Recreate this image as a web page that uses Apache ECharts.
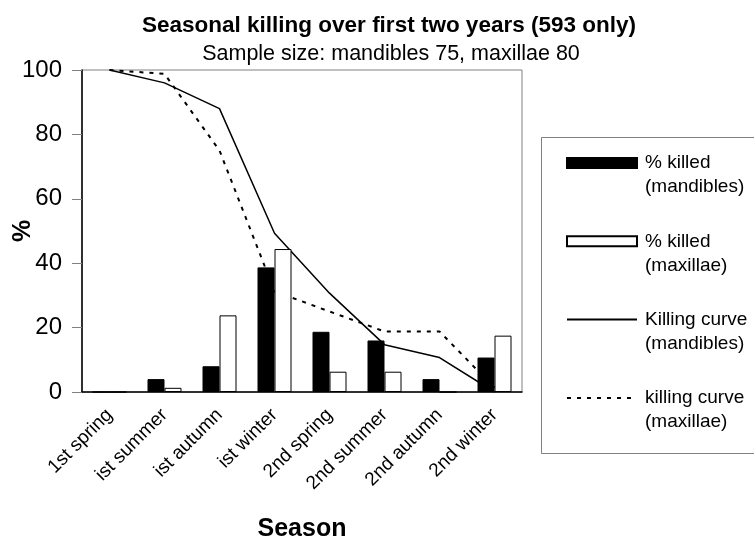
<!DOCTYPE html>
<html>
<head>
<meta charset="utf-8">
<title>Seasonal killing</title>
<script src="https://cdn.jsdelivr.net/npm/echarts@6/dist/echarts.min.js"></script>
<style>
  html, body { margin: 0; padding: 0; background: #fff; }
  #chart { width: 754px; height: 540px; }
</style>
</head>
<body>
<div id="chart"></div>
<script>
const seasons = ['1st spring', 'ist summer', 'ist autumn', 'ist winter', '2nd spring', '2nd summer', '2nd autumn', '2nd winter'];
const killedMandibles = [0, 4, 8, 38.7, 18.7, 16, 4, 10.7];
const killedMaxillae = [0, 1.3, 23.8, 44.4, 6.3, 6.3, 0, 17.5];
const curveMandibles = [100, 96, 88, 49.3, 30.7, 14.7, 10.7, 0];
const curveMaxillae = [100, 98.8, 75, 31.3, 25, 18.8, 18.8, 1.3];
const yTicks = [0, 20, 40, 60, 80, 100];

const font = "'Liberation Sans', Arial, sans-serif";

const chart = echarts.init(document.getElementById('chart'));

const option = {
  animation: false,
  backgroundColor: '#fff',
  textStyle: { fontFamily: font, color: '#000' },
  title: [
    {
      text: 'Seasonal killing over first two years (593 only)',
      left: 384,
      top: 9,
      textAlign: 'center',
      textStyle: { fontFamily: font, fontSize: 22.5, fontWeight: 'bold', color: '#000' }
    },
    {
      text: 'Sample size: mandibles 75, maxillae 80',
      left: 386,
      top: 38,
      textAlign: 'center',
      textStyle: { fontFamily: font, fontSize: 21.5, fontWeight: 'normal', color: '#000' }
    }
  ],
  // legend frame (box round the legend)
  graphic: [{
    type: 'rect',
    shape: { x: 541.5, y: 137.5, width: 240, height: 316 },
    style: { fill: null, stroke: '#808080', lineWidth: 1 },
    silent: true
  }],
  legend: {
    orient: 'vertical',
    left: 566,
    top: 127,
    padding: 0,
    itemWidth: 70,
    itemHeight: 10,
    itemGap: 6.3,
    data: [
      { name: '% killed (mandibles)', icon: 'rect' },
      { name: '% killed (maxillae)', icon: 'rect' },
      { name: 'Killing curve (mandibles)', itemStyle: { opacity: 0 } },
      { name: 'killing curve (maxillae)', itemStyle: { opacity: 0 } }
    ],
    // empty first line so the icon sits beside the first text line
    formatter: name => '\n' + name.replace(' (', '\n('),
    textStyle: {
      fontFamily: font,
      fontSize: 19,
      lineHeight: 24,
      color: '#000',
      padding: [0, 0, 0, 3]
    }
  },
  grid: {
    left: 82,
    right: 232,
    top: 70,
    bottom: 148,
    show: true,
    borderColor: '#808080',
    borderWidth: 1,
    containLabel: false,
    outerBoundsMode: 'none'
  },
  xAxis: {
    type: 'category',
    data: seasons,
    name: 'Season',
    nameLocation: 'middle',
    nameGap: 125,
    nameMoveOverlap: false,
    nameTextStyle: { fontFamily: font, fontSize: 25, fontWeight: 'bold', color: '#000' },
    axisLine: { lineStyle: { color: '#000', width: 1.5 } },
    axisTick: { length: 5, lineStyle: { color: '#000' } },
    axisLabel: { rotate: 45, interval: 0, fontSize: 19, margin: 20, color: '#000' },
    splitLine: { show: false }
  },
  yAxis: {
    type: 'value',
    min: yTicks[0],
    max: yTicks[yTicks.length - 1],
    interval: 20,
    name: '%',
    nameLocation: 'middle',
    nameGap: 46,
    nameRotate: 90,
    nameMoveOverlap: false,
    nameTextStyle: { fontFamily: font, fontSize: 25, fontWeight: 'bold', color: '#000' },
    axisLine: { show: true, lineStyle: { color: '#000', width: 1.5 } },
    axisTick: { show: true, length: 10, lineStyle: { color: '#808080' } },
    axisLabel: { fontSize: 24, margin: 20, color: '#000' },
    splitLine: { show: false }
  },
  series: [
    {
      name: '% killed (mandibles)',
      type: 'bar',
      data: killedMandibles,
      barWidth: 17,
      barGap: '0%',
      z: 3,
      itemStyle: { color: '#000', borderColor: '#000', borderWidth: 1 }
    },
    {
      name: '% killed (maxillae)',
      type: 'bar',
      data: killedMaxillae,
      barWidth: 17,
      barGap: '0%',
      z: 3,
      itemStyle: { color: '#fff', borderColor: '#000', borderWidth: 1 }
    },
    {
      name: 'Killing curve (mandibles)',
      type: 'line',
      data: curveMandibles,
      symbol: 'none',
      z: 2,
      itemStyle: { color: '#000' },
      lineStyle: { color: '#000', width: 1.5 }
    },
    {
      name: 'killing curve (maxillae)',
      type: 'line',
      data: curveMaxillae,
      symbol: 'none',
      z: 2,
      itemStyle: { color: '#000' },
      lineStyle: { color: '#000', width: 2, type: [4, 6] }
    }
  ]
};

chart.setOption(option);
</script>
</body>
</html>
